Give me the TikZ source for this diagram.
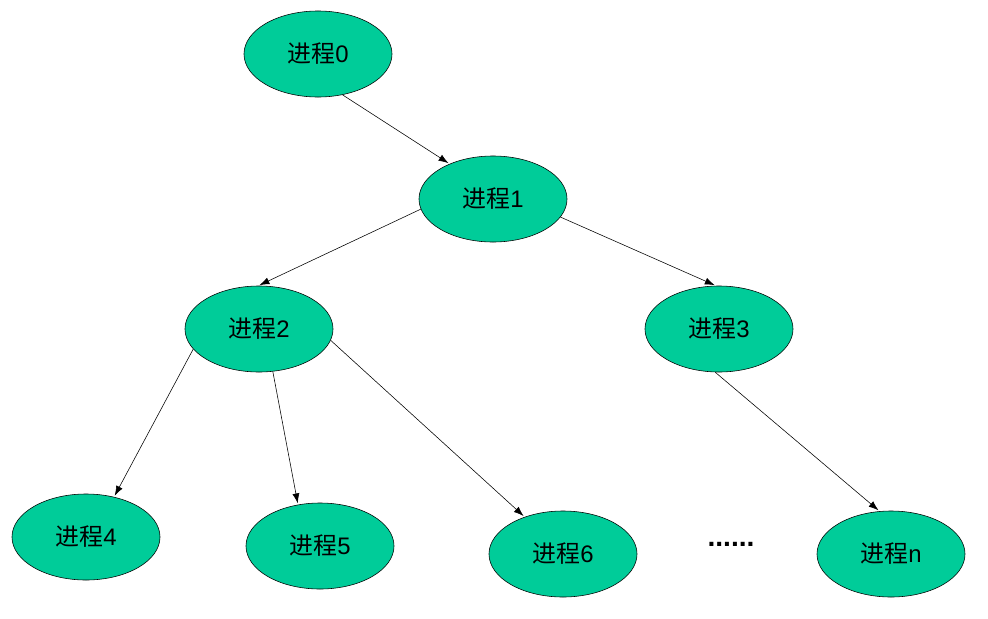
\documentclass[tikz,border=0pt]{standalone}
\usepackage{fontspec}
\setmainfont{Liberation Sans}
\newfontfamily\cjk{Noto Sans CJK SC}
\usepackage{tikz}
\usetikzlibrary{arrows.meta,shapes.geometric}
\definecolor{procgreen}{RGB}{0,204,153}

\begin{document}
\begin{tikzpicture}[x=0.025cm,y=-0.025cm,->,>={Latex[length=7pt,width=5pt]},
                shorten >=1pt,thin,
                proc node/.style={ellipse,draw,fill=procgreen,inner sep=0pt,
                  minimum width=3.7cm,minimum height=2.15cm,font=\fontsize{17}{20}\selectfont}]
  \useasboundingbox (0,0) rectangle (988,619);

  \node[proc node] (0) at (318,54) {{\cjk 进程}0};
  \node[proc node] (1) at (493,199) {{\cjk 进程}1};
  \node[proc node] (2) at (259,329) {{\cjk 进程}2};
  \node[proc node] (3) at (719,329) {{\cjk 进程}3};
  \node[proc node] (4) at (86,537) {{\cjk 进程}4};
  \node[proc node] (5) at (320,546) {{\cjk 进程}5};
  \node[proc node] (6) at (563,554) {{\cjk 进程}6};
  \node[proc node] (n) at (891,554) {{\cjk 进程}n};
  \node[font=\fontsize{20}{24}\selectfont\bfseries] (dots) at (731,544) {......};

  \path
    (0.301) edge (1.141)
    (1.188) edge (2.91)
    (1.345) edge (3.94)
    (2.197) edge (4.55)
    (2.288) edge (5.118)
    (2.351) edge (6.136)
    (3.265) edge (n.105);
\end{tikzpicture}
\end{document}
